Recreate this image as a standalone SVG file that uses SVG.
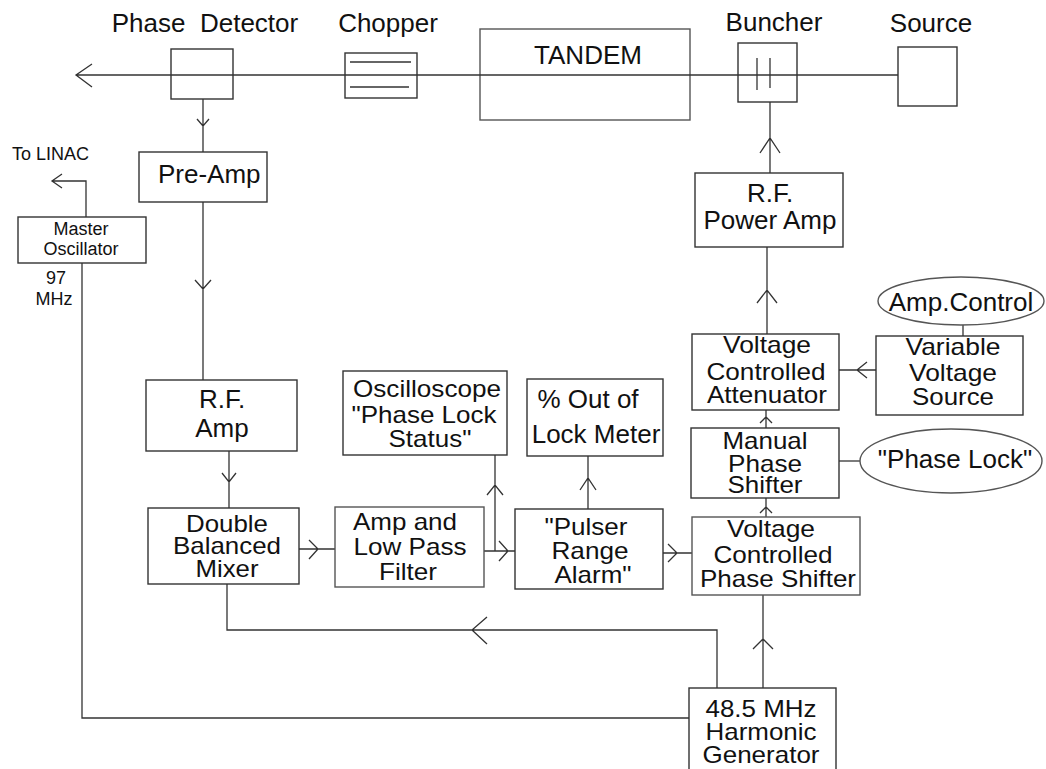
<svg xmlns="http://www.w3.org/2000/svg" width="1046" height="769" viewBox="0 0 1046 769">
<style>
.b{fill:#fff;stroke:#333;stroke-width:1.4}
.g{fill:#fff;stroke:#555;stroke-width:1.4}
.c{fill:none;stroke:#333;stroke-width:1.3}
text{font-family:"Liberation Sans",Arial,sans-serif;font-size:26px;fill:#111;text-anchor:middle}
.t{font-size:24px}
.s{font-size:18px}
.l{text-anchor:start}
</style>
<rect width="1046" height="769" fill="#fff"/>
<g id="phase-detector"><rect class="b" x="171" y="49" width="62" height="50"/><text x="205" y="32" xml:space="preserve">Phase  Detector</text></g>
<g id="chopper"><rect class="b" x="345" y="53" width="72" height="45"/><line class="c" x1="350" y1="62" x2="411" y2="62"/><line class="c" x1="350" y1="87" x2="409" y2="87"/><text x="388" y="32">Chopper</text></g>
<g id="tandem"><rect class="g" x="480" y="29" width="210" height="91"/><text x="588" y="64">TANDEM</text></g>
<g id="buncher"><rect class="b" x="738" y="43" width="59" height="59"/><line class="c" x1="757" y1="58" x2="757" y2="90"/><line class="c" x1="770" y1="58" x2="770" y2="88"/><text x="774" y="31">Buncher</text></g>
<g id="source"><rect class="b" x="898" y="47" width="59" height="59"/><text x="931" y="32">Source</text></g>
<g id="connectors">
<path class="c" d="M76,75 H898 M92,64 L76,75 L92,87"/>
<path class="c" d="M203,99 V152 M197,119 L203,126 L209,119"/>
<path class="c" d="M203,202 V380 M195,280 L203,289 L211,280"/>
<path class="c" d="M229,451 V508 M222,473 L229,482 L236,473"/>
<path class="c" d="M299,549 H335 M309,540 L318,549 L309,559"/>
<path class="c" d="M484,551 H515 M499,541 L508,551 L499,561"/>
<path class="c" d="M495,551 V455 M487,495 L495,485 L503,495"/>
<path class="c" d="M588,509 V456 M580,490 L588,478 L596,490"/>
<path class="c" d="M663,553 H692 M668,544 L677,553 L668,562"/>
<path class="c" d="M766,517 V498 M760,513 L766,507 L772,513"/>
<path class="c" d="M766,428 V410 M760,423 L766,417 L772,423"/>
<path class="c" d="M767,334 V247 M757,303 L767,290 L777,303"/>
<path class="c" d="M770,173 V102 M760,153 L770,138 L780,153"/>
<path class="c" d="M876,370 H839 M867,362 L857,370 L867,378"/>
<path class="c" d="M963,325 V336"/>
<path class="c" d="M839,461 H860"/>
<path class="c" d="M763,688 V595 M753,649 L763,639 L773,649"/>
<path class="c" d="M717,688 V630 H227 V584 M487,617 L472,630 L487,644"/>
<path class="c" d="M86,217 V181 H52 M62,174 L52,181 L62,188"/>
<path class="c" d="M82,263 V718 H689"/>
</g>
<g id="to-linac"><text class="s l" x="12" y="160">To LINAC</text></g>
<g id="master-oscillator"><rect class="b" x="18" y="217" width="128" height="46"/><text class="s" x="81" y="235">Master</text><text class="s" x="81" y="255">Oscillator</text></g>
<g id="mhz97"><text class="s" x="56" y="284">97</text><text class="s" x="54" y="305">MHz</text></g>
<g id="pre-amp"><rect class="b" x="139" y="152" width="128" height="50"/><text class="l" x="158" y="183">Pre-Amp</text></g>
<g id="rf-amp"><rect class="b" x="146" y="380" width="151" height="71"/><text x="222" y="408">R.F.</text><text x="222" y="437">Amp</text></g>
<g id="mixer"><rect class="b" x="148" y="508" width="151" height="76"/><text class="t" x="227" y="532" textLength="82" lengthAdjust="spacingAndGlyphs">Double</text><text class="t" x="227" y="554" textLength="108" lengthAdjust="spacingAndGlyphs">Balanced</text><text class="t" x="227" y="577" textLength="63" lengthAdjust="spacingAndGlyphs">Mixer</text></g>
<g id="filter"><rect class="g" x="335" y="507" width="149" height="80"/><text class="t" x="405" y="530" textLength="104" lengthAdjust="spacingAndGlyphs">Amp and</text><text class="t" x="410" y="555" textLength="113" lengthAdjust="spacingAndGlyphs">Low Pass</text><text class="t" x="408" y="580" textLength="58" lengthAdjust="spacingAndGlyphs">Filter</text></g>
<g id="oscilloscope"><rect class="b" x="343" y="371" width="164" height="84"/><text class="t" x="427" y="397" textLength="148" lengthAdjust="spacingAndGlyphs">Oscilloscope</text><text class="t" x="424" y="423" textLength="145" lengthAdjust="spacingAndGlyphs">"Phase Lock</text><text class="t" x="430" y="447" textLength="83" lengthAdjust="spacingAndGlyphs">Status"</text></g>
<g id="meter"><rect class="b" x="527" y="379" width="136" height="77"/><text x="588" y="408">% Out of</text><text x="596" y="443">Lock Meter</text></g>
<g id="pulser"><rect class="b" x="515" y="509" width="148" height="80"/><text class="t" x="586" y="535" textLength="83" lengthAdjust="spacingAndGlyphs">"Pulser</text><text class="t" x="590" y="559" textLength="77" lengthAdjust="spacingAndGlyphs">Range</text><text class="t" x="593" y="583" textLength="77" lengthAdjust="spacingAndGlyphs">Alarm"</text></g>
<g id="vcps"><rect class="g" x="692" y="517" width="168" height="78"/><text class="t" x="771" y="537" textLength="88" lengthAdjust="spacingAndGlyphs">Voltage</text><text class="t" x="773" y="563" textLength="119" lengthAdjust="spacingAndGlyphs">Controlled</text><text class="t" x="778" y="587" textLength="156" lengthAdjust="spacingAndGlyphs">Phase Shifter</text></g>
<g id="manual"><rect class="b" x="691" y="428" width="148" height="70"/><text class="t" x="765" y="449" textLength="85" lengthAdjust="spacingAndGlyphs">Manual</text><text class="t" x="765" y="472" textLength="74" lengthAdjust="spacingAndGlyphs">Phase</text><text class="t" x="765" y="493" textLength="75" lengthAdjust="spacingAndGlyphs">Shifter</text></g>
<g id="vca"><rect class="b" x="692" y="334" width="147" height="76"/><text class="t" x="767" y="353" textLength="88" lengthAdjust="spacingAndGlyphs">Voltage</text><text class="t" x="766" y="380" textLength="119" lengthAdjust="spacingAndGlyphs">Controlled</text><text class="t" x="767" y="403" textLength="120" lengthAdjust="spacingAndGlyphs">Attenuator</text></g>
<g id="rf-power-amp"><rect class="b" x="695" y="173" width="148" height="74"/><text x="770" y="202">R.F.</text><text x="770" y="229">Power Amp</text></g>
<g id="vvs"><rect class="b" x="876" y="336" width="147" height="79"/><text class="t" x="953" y="355" textLength="95" lengthAdjust="spacingAndGlyphs">Variable</text><text class="t" x="953" y="381" textLength="88" lengthAdjust="spacingAndGlyphs">Voltage</text><text class="t" x="953" y="405" textLength="82" lengthAdjust="spacingAndGlyphs">Source</text></g>
<g id="amp-control"><ellipse class="g" cx="961" cy="301" rx="83" ry="24"/><text x="961" y="311">Amp.Control</text></g>
<g id="phase-lock"><ellipse class="g" cx="951" cy="461" rx="91" ry="32"/><text x="955" y="468">"Phase Lock"</text></g>
<g id="harmonic"><rect class="b" x="689" y="688" width="147" height="90"/><text class="t" x="761" y="717" textLength="111" lengthAdjust="spacingAndGlyphs">48.5 MHz</text><text class="t" x="761" y="740" textLength="111" lengthAdjust="spacingAndGlyphs">Harmonic</text><text class="t" x="761" y="763" textLength="117" lengthAdjust="spacingAndGlyphs">Generator</text></g>
</svg>
